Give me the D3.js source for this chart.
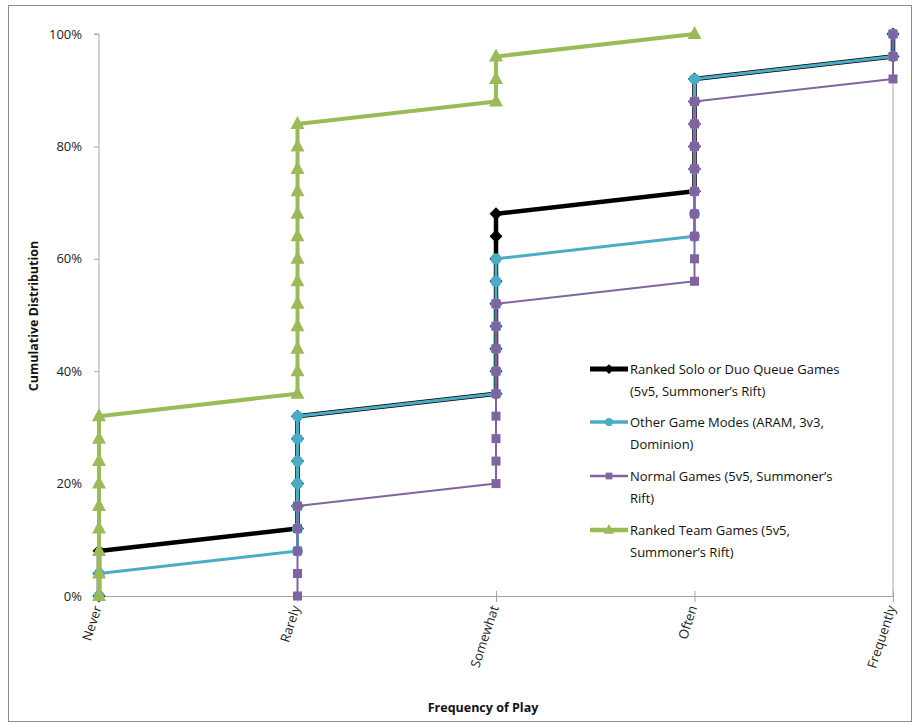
<!DOCTYPE html>
<html>
<head>
<meta charset="utf-8">
<script src="https://cdn.jsdelivr.net/npm/d3@7"></script>
<style>
  html, body { margin: 0; padding: 0; background: #fff; }
  svg { display: block; }
  text { font-family: "Open Sans", "Liberation Sans", sans-serif; }
</style>
</head>
<body>
<svg id="chart" width="916" height="725"></svg>
<script>
// ---- data (cumulative percentages; each point is one respondent, 4% each) ----
const categories = ["Never", "Rarely", "Somewhat", "Often", "Frequently"];
const yTicks = [0, 20, 40, 60, 80, 100];

const seriesNames = [
  ["Ranked Solo or Duo Queue Games", "(5v5, Summoner\u2019s Rift)"],
  ["Other Game Modes (ARAM, 3v3,", "Dominion)"],
  ["Normal Games (5v5, Summoner\u2019s", "Rift)"],
  ["Ranked Team Games (5v5,", "Summoner\u2019s Rift)"]
];

// values per category index (Never..Frequently)
const soloQueue = [
  [0, 4, 8],
  [12, 16, 20, 24, 28, 32],
  [36, 40, 44, 48, 52, 56, 60, 64, 68],
  [72, 76, 80, 84, 88, 92],
  [96, 100]
];
const otherModes = [
  [0, 4],
  [8, 12, 16, 20, 24, 28, 32],
  [36, 40, 44, 48, 52, 56, 60],
  [64, 68, 72, 76, 80, 84, 88, 92],
  [96, 100]
];
const normalGames = [
  [],
  [0, 4, 8, 12, 16],
  [20, 24, 28, 32, 36, 40, 44, 48, 52],
  [56, 60, 64, 68, 72, 76, 80, 84, 88],
  [92, 96, 100]
];
const rankedTeam = [
  [0, 4, 8, 12, 16, 20, 24, 28, 32],
  [36, 40, 44, 48, 52, 56, 60, 64, 68, 72, 76, 80, 84],
  [88, 92, 96],
  [100],
  []
];

const seriesData = [soloQueue, otherModes, normalGames, rankedTeam];
const colors = ["#000000", "#4bacc6", "#8064a2", "#9bbb59"];
const lineWidths = [4.5, 3, 2, 4];
const markerTypes = ["diamond", "circle", "square", "triangle"];

// ---- layout ----
const svg = d3.select("#chart");
const x = d3.scaleLinear().domain([0, categories.length - 1]).range([99, 893]);
const y = d3.scaleLinear().domain([0, 100]).range([596, 34]);

// outer frame
svg.append("rect").attr("x", 8.5).attr("y", 5.5).attr("width", 903).attr("height", 716)
  .attr("fill", "none").attr("stroke", "#8c8c8c").attr("stroke-width", 1);

// right vertical line at last category
svg.append("line").attr("x1", x(4)).attr("x2", x(4)).attr("y1", y(100)).attr("y2", y(0))
  .attr("stroke", "#a6a6a6").attr("stroke-width", 1);

// y axis
const yAxis = d3.axisLeft(y).tickValues(yTicks).tickFormat(d => d + "%").tickSize(5).tickPadding(12);
const gy = svg.append("g").attr("transform", `translate(${x(0)},0)`).call(yAxis);
gy.select(".domain").attr("stroke", "#a6a6a6").attr("d", `M-5,${y(100)}H0V${y(0)}`);
gy.selectAll(".tick line").attr("stroke", "#a6a6a6");
gy.selectAll(".tick text").attr("font-size", 13).attr("fill", "#222");

// x axis
const xAxis = d3.axisBottom(x).tickValues(d3.range(categories.length))
  .tickFormat(i => categories[i]).tickSize(6).tickSizeOuter(0);
const gx = svg.append("g").attr("transform", `translate(0,${y(0)})`).call(xAxis);
gx.select(".domain").attr("stroke", "#a6a6a6");
gx.selectAll(".tick line").attr("stroke", "#a6a6a6").attr("y1", -5).attr("y2", 6);
gx.selectAll(".tick text")
  .attr("font-size", 13).attr("fill", "#222")
  .attr("text-anchor", "end")
  .attr("dy", "0.35em")
  .attr("transform", "translate(-2,10) rotate(-72)")
  .attr("x", 0).attr("y", 0);

// axis titles
svg.append("text").attr("x", 483).attr("y", 712).attr("text-anchor", "middle")
  .attr("font-size", 12.5).attr("font-weight", "bold").attr("fill", "#111")
  .text("Frequency of Play");
svg.append("text").attr("transform", `translate(38,316) rotate(-90)`).attr("text-anchor", "middle")
  .attr("font-size", 12.5).attr("font-weight", "bold").attr("fill", "#111")
  .text("Cumulative Distribution");

// marker shapes
function symbolFor(type) {
  switch (type) {
    case "diamond": return "M0,-6.5L6.5,0L0,6.5L-6.5,0Z";
    case "circle": return d3.symbol().type(d3.symbolCircle).size(95)();
    case "square": return "M-4.5,-4.5H4.5V4.5H-4.5Z";
    case "triangle": return "M0,-8L7,5H-7Z";
  }
}

const line = d3.line().x(d => x(d.c)).y(d => y(d.v));

seriesData.forEach((s, si) => {
  const pts = [];
  s.forEach((vals, ci) => vals.forEach(v => pts.push({ c: ci, v: v })));
  const g = svg.append("g");
  g.append("path").datum(pts).attr("d", line).attr("fill", "none")
    .attr("stroke", colors[si]).attr("stroke-width", lineWidths[si]).attr("stroke-linejoin", "round");
  g.selectAll("path.m").data(pts).enter().append("path").attr("class", "m")
    .attr("d", symbolFor(markerTypes[si]))
    .attr("transform", d => `translate(${x(d.c)},${y(d.v)})`)
    .attr("fill", colors[si]);
});

// legend
const legendRows = [369, 422, 476, 530];
const lg = svg.append("g");
seriesNames.forEach((nm, i) => {
  const ly = legendRows[i];
  lg.append("line").attr("x1", 590).attr("x2", 628).attr("y1", ly).attr("y2", ly)
    .attr("stroke", colors[i]).attr("stroke-width", lineWidths[i] + 0.5);
  lg.append("path").attr("d", symbolFor(markerTypes[i]))
    .attr("transform", `translate(609,${ly}) scale(0.75)`).attr("fill", colors[i]);
  nm.forEach((t, k) => {
    lg.append("text").attr("x", 630).attr("y", ly + 5 + k * 22)
      .attr("font-size", 13).attr("fill", "#111").text(t);
  });
});
</script>
</body>
</html>
